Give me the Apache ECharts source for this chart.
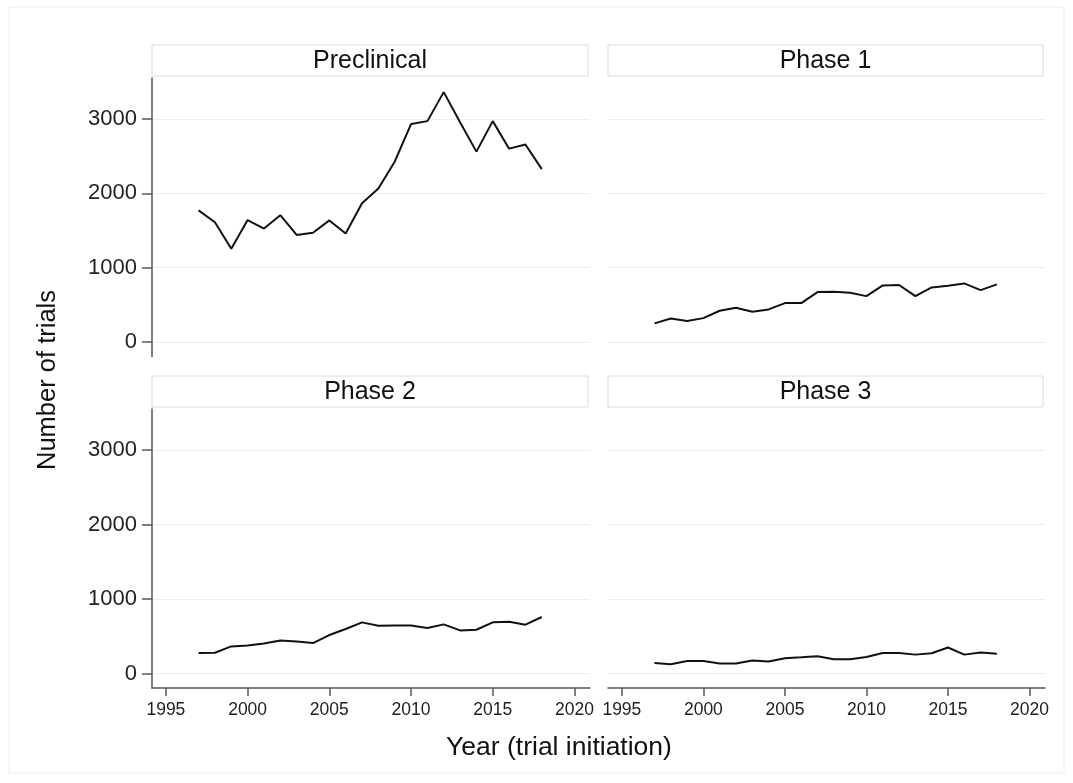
<!DOCTYPE html>
<html>
<head>
<meta charset="utf-8">
<script src="https://cdn.jsdelivr.net/npm/echarts@6/dist/echarts.min.js"></script>
<style>
  html, body { margin: 0; padding: 0; background: #fff; }
  #chart { width: 1073px; height: 783px; }
</style>
</head>
<body>
<div id="chart"></div>
<script>
// ---- data ----
const years = [1997, 1998, 1999, 2000, 2001, 2002, 2003, 2004, 2005, 2006, 2007,
               2008, 2009, 2010, 2011, 2012, 2013, 2014, 2015, 2016, 2017, 2018];
const preclinical = [1770, 1610, 1255, 1640, 1525, 1705, 1440, 1470, 1635, 1460, 1865,
                     2065, 2425, 2930, 2970, 3360, 2955, 2560, 2970, 2600, 2655, 2325];
const phase1 = [250, 317, 282, 321, 420, 461, 407, 438, 523, 523, 671,
                676, 663, 617, 761, 766, 617, 734, 757, 788, 698, 775];
const phase2 = [274, 278, 363, 376, 403, 444, 430, 408, 516, 597, 686,
                641, 645, 645, 610, 659, 578, 587, 686, 695, 655, 758];
const phase3 = [142, 124, 168, 168, 133, 133, 173, 160, 204, 217, 231,
                191, 191, 221, 275, 275, 253, 271, 349, 253, 280, 266];
const panelTitles = ['Preclinical', 'Phase 1', 'Phase 2', 'Phase 3'];
const xTickValues = [1995, 2000, 2005, 2010, 2015, 2020];
const yTickValues = [0, 1000, 2000, 3000];
const yAxisTitle = 'Number of trials';
const xAxisTitle = 'Year (trial initiation)';

// ---- layout ----
const FONT = "'Liberation Sans', Arial, Helvetica, sans-serif";
const grids = [
  { left: 152, top: 78, width: 438, height: 278.5 },
  { left: 608, top: 78, width: 437, height: 278.5 },
  { left: 152, top: 409, width: 438, height: 279 },
  { left: 608, top: 409, width: 437, height: 279 }
];
const seriesValues = [preclinical, phase1, phase2, phase3];
const AXIS_COLOR = '#555';
const GRID_COLOR = '#ececec';
const plain = v => String(Math.round(v));

const xAxes = grids.map((g, i) => {
  const bottom = i >= 2;
  return {
    type: 'value', gridIndex: i, min: 1994.15, max: 2020.95,
    axisLine: { show: bottom, onZero: false, lineStyle: { color: AXIS_COLOR, width: 1.5 } },
    axisTick: { show: bottom, length: 8, customValues: xTickValues, lineStyle: { color: AXIS_COLOR, width: 1.5 } },
    axisLabel: { show: bottom, customValues: xTickValues, formatter: plain, margin: 13, fontSize: 17.5, color: '#222', fontFamily: FONT },
    splitLine: { show: false }
  };
});
const yAxes = grids.map((g, i) => {
  const left = i % 2 === 0;
  return {
    type: 'value', gridIndex: i, min: -195, max: 3550,
    axisLine: { show: left, lineStyle: { color: AXIS_COLOR, width: 1.5 } },
    axisTick: { show: left, length: 10, customValues: yTickValues, lineStyle: { color: AXIS_COLOR, width: 1.5 } },
    axisLabel: { show: left, customValues: yTickValues, formatter: plain, margin: 15, fontSize: 22, color: '#222', fontFamily: FONT },
    splitLine: { show: true, lineStyle: { color: GRID_COLOR, width: 1.2 } }
  };
});
const series = seriesValues.map((vals, i) => ({
  type: 'line', xAxisIndex: i, yAxisIndex: i, showSymbol: false, silent: true,
  lineStyle: { color: '#111', width: 2 },
  data: years.map((y, k) => [y, vals[k]])
}));

const stripTops = [45, 45, 376, 376];
const graphics = [
  { type: 'rect', shape: { x: 9, y: 7, width: 1055, height: 766 }, style: { fill: 'none', stroke: '#eeeeee', lineWidth: 1 }, z: -1 }
];
grids.forEach((g, i) => {
  graphics.push({
    type: 'rect', shape: { x: g.left, y: stripTops[i], width: g.width - 2, height: 31 },
    style: { fill: '#fff', stroke: '#dcdcdc', lineWidth: 1 }
  });
  graphics.push({
    type: 'text', x: g.left + (g.width - 2) / 2, y: stripTops[i] + 16,
    style: { text: panelTitles[i], fontSize: 25, fontFamily: FONT, fill: '#111', align: 'center', verticalAlign: 'middle' }
  });
});
graphics.push({
  type: 'text', x: 48, y: 380, rotation: Math.PI / 2,
  style: { text: yAxisTitle, fontSize: 25.5, fontFamily: FONT, fill: '#111', align: 'center', verticalAlign: 'middle' }
});
graphics.push({
  type: 'text', x: 559, y: 748,
  style: { text: xAxisTitle, fontSize: 26.5, fontFamily: FONT, fill: '#111', align: 'center', verticalAlign: 'middle' }
});

const chart = echarts.init(document.getElementById('chart'), null, { renderer: 'canvas' });
chart.setOption({
  animation: false,
  backgroundColor: '#fff',
  grid: grids.map(g => Object.assign({ containLabel: false }, g)),
  xAxis: xAxes,
  yAxis: yAxes,
  series: series,
  graphic: graphics
});
</script>
</body>
</html>
